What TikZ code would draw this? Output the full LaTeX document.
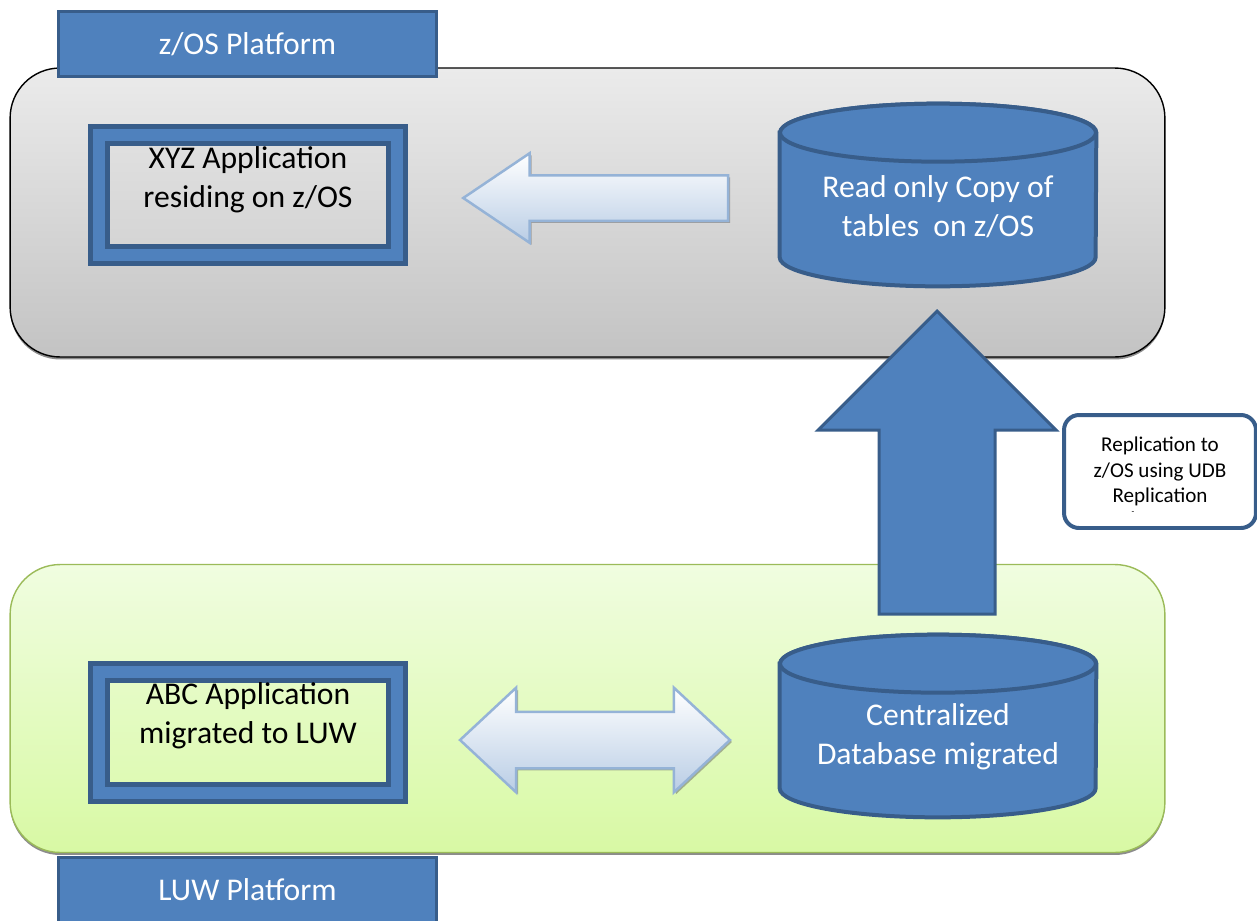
\documentclass[tikz,border=0pt]{standalone}
\usepackage{fontspec}
\setmainfont{Carlito}
\usepackage{tikz}
\usetikzlibrary{positioning,shapes.arrows,shadows}
\definecolor{boxblue}{HTML}{4F81BD}
\definecolor{boxline}{HTML}{385D8A}
\definecolor{arrline}{HTML}{95B3D7}
\definecolor{arrlow}{HTML}{B9CDE5}
\definecolor{greyhi}{HTML}{EBEBEB}
\definecolor{greylo}{HTML}{C3C3C3}
\definecolor{greenhi}{HTML}{F0FDE0}
\definecolor{greenlo}{HTML}{D8F9A4}
\definecolor{greenline}{HTML}{9BBB59}

\begin{document}
\begin{tikzpicture}[x=0.02cm,y=-0.02cm]
 \tikzset{
  platform/.style={rounded corners=1cm,minimum width=23.1cm,line width=0.8pt,
   drop shadow={shadow xshift=0pt,shadow yshift=-0.05cm,fill=black,opacity=0.45}},
  tag/.style={fill=boxblue,draw=boxline,line width=0.06cm,minimum width=7.56cm,
   minimum height=1.32cm,text=white,font=\fontsize{18}{22}\selectfont},
  app/.style={draw=boxline,line width=0.1cm,double=boxblue,double distance=0.24cm,
   minimum width=5.96cm,minimum height=2.42cm,inner sep=0pt},
  apptext/.style={align=center,font=\fontsize{18}{22}\selectfont},
  dbbox/.style={minimum width=6.32cm,minimum height=3.64cm,inner sep=0pt},
  db/.style={fill=boxblue,draw=boxline,line width=0.08cm},
  dbtext/.style={align=center,text=white,font=\fontsize{18}{22}\selectfont},
  flow/.style={top color=white,bottom color=arrlow,draw=arrline,line width=0.05cm,
   drop shadow={shadow xshift=0.04cm,shadow yshift=-0.04cm,fill=black!60,opacity=0.5}},
 }
 \useasboundingbox (0,0) rectangle (1257,920);

 % the two platforms
 \node[platform,draw=black,top color=greyhi,bottom color=greylo,minimum height=5.78cm] (zos) at (587.5,212.5) {};
 \node[platform,draw=greenline,top color=greenhi,bottom color=greenlo,minimum height=5.76cm] (luw) at (587.5,708.5) {};
 \node[tag] (zostag) at (247.5,44) {z/OS Platform};
 \node[tag] (luwtag) at (247.5,890) {LUW Platform};

 % applications
 \node[app,top color=black!12,bottom color=black!17] (xyz) at (248,195) {};
 \node[apptext] (xyzlbl) at (248,180) {XYZ Application\\residing on z/OS};
 \node[app,top color={rgb,255:red,230;green,251;blue,200},bottom color={rgb,255:red,222;green,250;blue,179}] (abc) at (248,732) {};
 \node[apptext] (abclbl) at (248,716) {ABC Application\\migrated to LUW};

 % databases
 \node[dbbox] (copy) at (938,195) {};
 \node[dbbox] (central) at (938,726) {};
 \foreach \n in {copy,central} {
  \draw[db] ([yshift=-0.58cm]\n.north west) -- ([yshift=0.58cm]\n.south west)
   arc[start angle=180,end angle=360,x radius=3.16cm,y radius=0.58cm]
   -- ([yshift=-0.58cm]\n.north east)
   arc[start angle=0,end angle=180,x radius=3.16cm,y radius=0.58cm] -- cycle;
  \draw[db] ([yshift=-0.58cm]\n.north) ellipse[x radius=3.16cm,y radius=0.58cm];
 }
 \node[dbtext] (copylbl) at (938,207) {Read only Copy of\\tables~ on z/OS};
 \node[dbtext] (centrallbl) at (938,737) {Centralized\\Database migrated};

 % block arrows
 \node[flow,single arrow,shape border rotate=180,inner sep=0.43cm,minimum height=5.3cm,minimum width=1.74cm,
  single arrow head extend=0.44cm,single arrow tip angle=68,anchor=tip] (back) at (461,198) {};
 \node[flow,double arrow,inner sep=0.54cm,minimum height=5.4cm,minimum width=2.04cm,
  double arrow head extend=0.48cm,double arrow tip angle=86] (both) at (595,740) {};
 \node[single arrow,shape border rotate=90,fill=boxblue,draw=boxline,line width=0.06cm,inner sep=1.13cm,
  minimum height=6.06cm,minimum width=4.7cm,single arrow head extend=1.22cm,single arrow tip angle=90,
  anchor=tip] (up) at (937,309) {};

 % replication note
 \node[draw=boxline,line width=0.08cm,fill=white,rounded corners=0.3cm,minimum width=3.84cm,
  minimum height=2.26cm,align=center,font=\fontsize{12}{14.6}\selectfont] (note) at (1160,471.5)
  {Replication to\\z/OS using UDB\\Replication};
 \node[font=\fontsize{5}{5}\selectfont,inner sep=0pt] (dash) at (1133,513) {-};
\end{tikzpicture}
\end{document}
